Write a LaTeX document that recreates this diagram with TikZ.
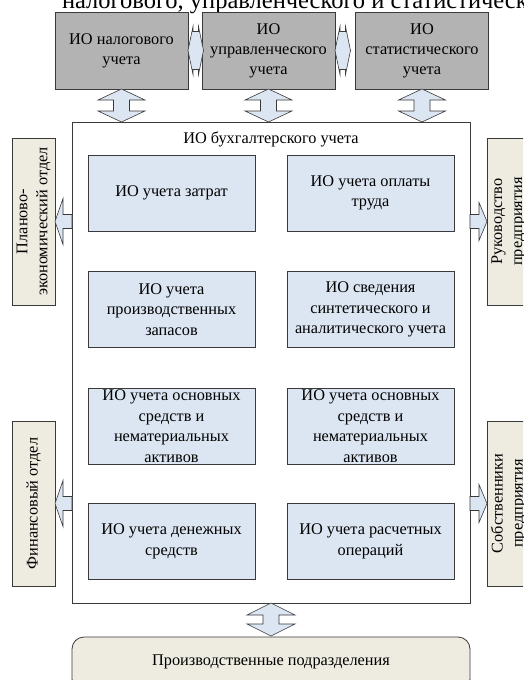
\documentclass[tikz,border=0pt]{standalone}
\usepackage{fontspec}
\setmainfont{Liberation Serif}
\definecolor{greyfill}{HTML}{B3B3B3}
\definecolor{bluefill}{HTML}{DCE6F2}
\definecolor{beigefill}{HTML}{EEECE1}
\definecolor{linecol}{HTML}{3A3A3A}
\begin{document}
\begin{tikzpicture}[x=1pt,y=-1pt,
  every node/.style={inner sep=0pt, outer sep=0pt, align=center, font=\fontsize{16.3}{20}\selectfont},
  greybox/.style={draw=linecol, line width=0.8pt, fill=greyfill, minimum width=133pt, minimum height=77pt},
  innerbox/.style={draw=linecol, line width=0.8pt, fill=bluefill, minimum width=167pt, minimum height=76pt, font=\fontsize{16.3}{20.5}\selectfont},
  sidebox/.style={draw=linecol, line width=0.8pt, fill=beigefill, minimum width=43pt},
  mainbox/.style={draw=linecol, line width=0.8pt, fill=white},
  blockarrow/.style={draw=linecol, line width=0.6pt, fill=bluefill, line join=miter}]
\clip (0,0) rectangle (523,680);
\useasboundingbox (0,0) rectangle (523,680);
\fill[white] (0,0) rectangle (523,680);

% cut-off heading
\node[anchor=base west, font=\fontsize{24.5}{28}\selectfont] (head) at (62,9) {налогового, управленческого и статистического};

% grey boxes
\node[greybox] (g1) at (121.5,50.5) {ИО налогового\\учета};
\node[greybox] (g2) at (268.5,50.5) {ИО\\управленческого\\учета};
\node[greybox] (g3) at (422,50.5) {ИО\\статистического\\учета};

% main box
\node[mainbox, minimum width=398pt, minimum height=481pt] (main) at (271,362.5) {};
\node (title) at (271,139) {ИО бухгалтерского учета};

% inner boxes
\node[innerbox] (a1) at (171.5,193) {ИО учета затрат};
\node[innerbox] (b1) at (370.5,193) {ИО учета оплаты\\труда};
\node[innerbox] (a2) at (171.5,309.5) {ИО учета\\производственных\\запасов};
\node[innerbox] (b2) at (370.5,309.5) {ИО сведения\\синтетического и\\аналитического учета};
\node[innerbox] (a3) at (171.5,426) {ИО учета основных\\средств и\\нематериальных\\активов};
\node[innerbox] (b3) at (370.5,426) {ИО учета основных\\средств и\\нематериальных\\активов};
\node[innerbox] (a4) at (171.5,541.5) {ИО учета денежных\\средств};
\node[innerbox] (b4) at (370.5,541.5) {ИО учета расчетных\\операций};

% side boxes
\node[sidebox, minimum height=167pt] (plan) at (33.5,221.5) {};
\node[rotate=90] (plant) at (plan.center) {Планово-\\экономический отдел};
\node[sidebox, minimum height=165pt] (fin) at (33.5,503.5) {};
\node[rotate=90] (fint) at (fin.center) {Финансовый отдел};
\node[sidebox, minimum height=167pt] (ruk) at (508.5,221.5) {};
\node[rotate=90] (rukt) at (ruk.center) {Руководство\\предприятия};
\node[sidebox, minimum height=165pt] (sob) at (508.5,503.5) {};
\node[rotate=90] (sobt) at (sob.center) {Собственники\\предприятия};

% bottom box
\node[draw=linecol, line width=0.8pt, fill=beigefill, rounded corners=12pt, minimum width=398pt, minimum height=54pt] (prod) at (271,664) {};
\node (prodt) at (271,662) {Производственные подразделения};

% horizontal double arrows between grey boxes
\foreach \src in {g1,g2} {
  \draw[blockarrow, shift={(\src.east)}]
    (0,0) -- (5,-24) -- (5,-19) -- (10.5,-19) -- (10.5,-24) -- (15.5,0)
    -- (10.5,24) -- (10.5,19) -- (5,19) -- (5,24) -- cycle;
}

% vertical double arrows grey boxes <-> main box
\foreach \src in {g1,g2,g3} {
  \draw[blockarrow, shift={(\src.south)}]
    (0,0) -- (23.5,11) -- (8,11) -- (8,22) -- (23.5,22) -- (0,33)
    -- (-23.5,22) -- (-8,22) -- (-8,11) -- (-23.5,11) -- cycle;
}

% bottom double arrow main <-> production
\draw[blockarrow, shift={(main.south)}]
    (0,0) -- (24,12) -- (8,12) -- (8,21) -- (24,21) -- (0,33)
    -- (-24,21) -- (-8,21) -- (-8,12) -- (-24,12) -- cycle;

% single arrows to side boxes
\draw[blockarrow, shift={(plan.east)}]
    (0,0) -- (8,-23) -- (8,-7) -- (17,-7) -- (17,7) -- (8,7) -- (8,23) -- cycle;
\draw[blockarrow, shift={(fin.east)}]
    (0,0) -- (8,-23) -- (8,-7) -- (17,-7) -- (17,7) -- (8,7) -- (8,23) -- cycle;
\draw[blockarrow, shift={(ruk.west)}]
    (0,0) -- (-8,-19) -- (-8,-7) -- (-17,-7) -- (-17,7) -- (-8,7) -- (-8,19) -- cycle;
\draw[blockarrow, shift={(sob.west)}]
    (0,0) -- (-8,-19) -- (-8,-7) -- (-17,-7) -- (-17,7) -- (-8,7) -- (-8,19) -- cycle;
\end{tikzpicture}
\end{document}
